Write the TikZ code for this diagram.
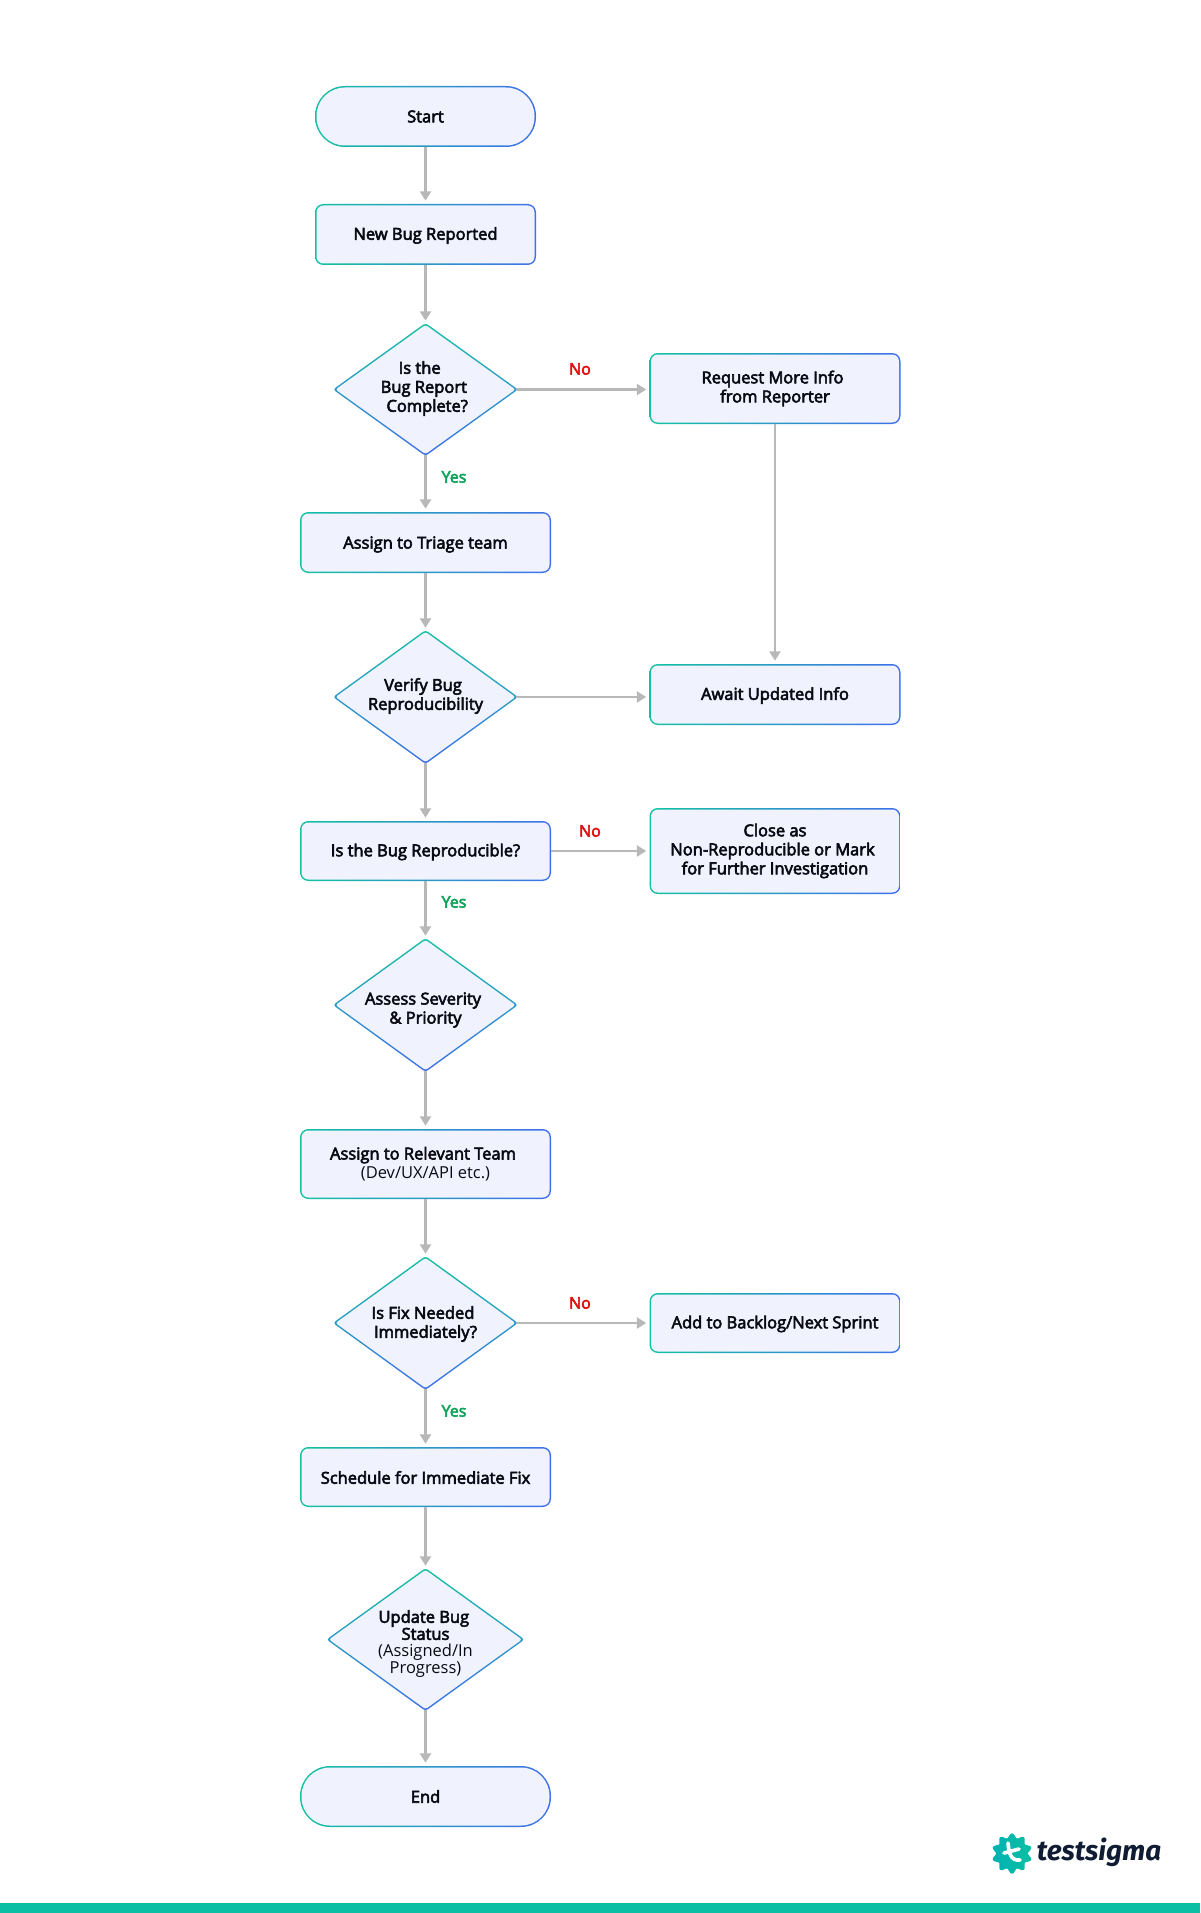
\documentclass[tikz,border=0pt]{standalone}
\usepackage{fontspec}
\setmainfont{Open Sans}
\newfontfamily\semib{Open Sans}[FakeBold=3.5]
\newfontfamily\logofont{Fira Sans}
\usetikzlibrary{arrows.meta,calc}
\definecolor{tealc}{HTML}{14C2A3}
\definecolor{bluec}{HTML}{4070EA}
\definecolor{fillc}{HTML}{F0F3FE}
\definecolor{linec}{HTML}{B8B8B8}
\definecolor{inkc}{HTML}{0A0A14}
\definecolor{noc}{HTML}{E01010}
\definecolor{yesc}{HTML}{0FA35A}
\definecolor{barc}{HTML}{0ABFA3}
\definecolor{logoink}{HTML}{0F1C33}
\tikzset{
  every node/.style={font=\fontsize{9.9}{11.4}\selectfont\semib, text=inkc},
  label box/.style={inner sep=0pt, align=center},
  conn/.style={draw=linec, line width=1.5pt, -{Triangle[length=5.6pt,width=6.6pt]}, shorten >=1.8pt},
  no label/.style={font=\fontsize{9.6}{11}\selectfont\semib, text=noc, inner sep=0pt},
  yes label/.style={font=\fontsize{9.6}{11}\selectfont\semib, text=yesc, inner sep=0pt},
  hgrad/.style={left color=tealc, right color=bluec},
  vgrad/.style={top color=tealc, bottom color=bluec},
  inner fill/.style={fill=fillc},
}
% [text y offset px] name, cx, cy, w, h, radius(pt), text
\newcommand\rectnode[8][0]{%
  \shade[hgrad, rounded corners=#7pt] (#3-#5/2,#4-#6/2) rectangle (#3+#5/2,#4+#6/2);
  \fill[inner fill, rounded corners=#7pt-0.9pt] (#3-#5/2+1.5,#4-#6/2+1.5) rectangle (#3+#5/2-1.5,#4+#6/2-1.5);
  \node[label box, minimum width=#5*0.6pt, minimum height=#6*0.6pt] (#2) at (#3,#4) {};
  \node[label box] (#2-text) at (#3,#4+#1) {#8};
}
% [text y offset px] name, cx, cy, w, h, text
\newcommand\dianode[7][0]{%
  \shade[vgrad, rounded corners=1.8pt] (#3,#4-#6/2-1) -- (#3+#5/2+2,#4) -- (#3,#4+#6/2+1) -- (#3-#5/2-2,#4) -- cycle;
  \fill[inner fill, rounded corners=1.4pt] (#3,#4-#6/2+0.9) -- (#3+#5/2-0.5,#4) -- (#3,#4+#6/2-0.9) -- (#3-#5/2+0.5,#4) -- cycle;
  \node[label box, minimum width=#5*0.6pt, minimum height=#6*0.6pt] (#2) at (#3,#4) {};
  \node[label box] (#2-text) at (#3,#4+#1) {#7};
}
\newcommand\reg[1]{{\normalfont #1}}
\begin{document}
\begin{tikzpicture}[x=0.6pt,y=-0.6pt]
\useasboundingbox (0,0) rectangle (1200,1913);
\fill[white] (0,0) rectangle (1200,1913);
\fill[barc] (0,1903) rectangle (1200,1913);

\rectnode{start}{425.5}{116.5}{221}{61}{18}{Start}
\rectnode[1]{newbug}{425.5}{234.5}{221}{61}{5}{New Bug Reported}
\dianode[-1]{d1}{425.5}{389.5}{181}{131}{\hspace*{-7pt}Is the\\\hspace*{-2pt}Bug Report\\\hspace*{2pt}Complete?}
\rectnode{req}{775}{388.5}{251}{71}{5}{\hspace*{-3pt}Request More Info\\from Reporter}
\rectnode[2]{triage}{425.5}{542.5}{251}{61}{5}{Assign to Triage team}
\dianode[-1]{d2}{425.5}{697}{181}{132}{\hspace*{-3pt}Verify Bug\\Reproducibility}
\rectnode[1]{await}{775}{694.5}{251}{61}{5}{Await Updated Info}
\rectnode[1]{repro}{425.5}{851}{251}{60}{5}{Is the Bug Reproducible?}
\rectnode{close}{775}{851}{251}{86}{5}{Close as\\\hspace*{-3pt}Non-Reproducible or Mark\\for Further Investigation}
\dianode[5]{d3}{425.5}{1005}{181}{132}{\hspace*{-3pt}Assess Severity\\\& Priority}
\rectnode{relevant}{425.5}{1164}{251}{70}{5}{\hspace*{-3pt}Assign to Relevant Team\\\reg{(Dev/UX/API etc.)}}
\dianode[1]{d4}{425.5}{1323}{181}{132}{\hspace*{-3pt}Is Fix Needed\\Immediately?}
\rectnode[1]{backlog}{775}{1323}{251}{60}{5}{Add to Backlog/Next Sprint}
\rectnode[0.5]{sched}{425.5}{1477}{251}{60}{5}{Schedule for Immediate Fix}
\dianode[4.5]{d5}{425.5}{1639.5}{194}{141}{\hspace*{-2pt}Update Bug\\[-1.2pt]Status\\[-1.2pt]\reg{(Assigned/In}\\[-1.2pt]\reg{Progress)}}
\rectnode{end}{425.5}{1796.5}{251}{61}{18}{End}

\draw[conn] (start) -- (newbug);
\draw[conn] (newbug) -- (d1);
\draw[conn] (d1) -- (triage);
\draw[conn] (d1.east) -- (d1.east -| req.west);
\draw[conn] (req) -- (await);
\draw[conn] (triage) -- (d2);
\draw[conn] (d2.east) -- (d2.east -| await.west);
\draw[conn] (d2) -- (repro);
\draw[conn] (repro) -- (close);
\draw[conn] (repro) -- (d3);
\draw[conn] (d3) -- (relevant);
\draw[conn] (relevant) -- (d4);
\draw[conn] (d4) -- (backlog);
\draw[conn] (d4) -- (sched);
\draw[conn] (sched) -- (d5);
\draw[conn] (d5) -- (end);

\node[no label] (no1) at (580,369) {No};
\node[no label] (no2) at (590,831) {No};
\node[no label] (no3) at (580,1303) {No};
\node[yes label] (yes1) at (454,477) {Yes};
\node[yes label] (yes2) at (454,902) {Yes};
\node[yes label] (yes3) at (454,1411) {Yes};

% logo
\shade[left color=teal!60!cyan, right color=barc]
  plot[smooth cycle, samples=80, domain=0:355.5] ({1012-0+(18-2.2*cos(10*\x))*cos(\x)},{1853.5+(18-2.2*cos(10*\x))*sin(\x)});
\draw[white, line width=2.2pt, line cap=round] (1008,1843) .. controls (1009,1852) and (1010,1861) .. (1020,1860);
\draw[white, line width=2.2pt, line cap=round] (1004,1853) -- (1019,1849);
\node[inner sep=0pt, font=\fontsize{16.7}{18}\selectfont\logofont\bfseries\itshape, text=logoink] (logo) at (1099,1852) {testsigma};
\end{tikzpicture}
\end{document}
